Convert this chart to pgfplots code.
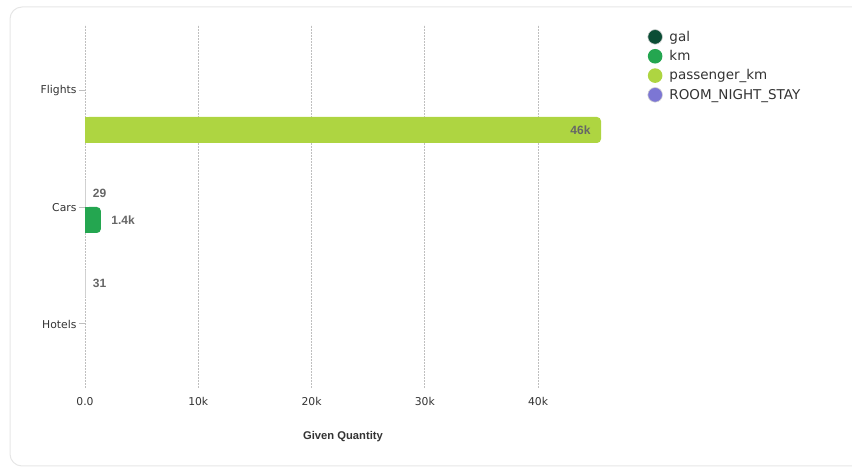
\documentclass[border=0pt]{standalone}
\usepackage{pgfplots}
\pgfplotsset{compat=1.18}
\usepackage{fontspec}
\setmainfont{DejaVu Sans}
\newfontfamily\vfont{Liberation Sans}
\definecolor{cgal}{HTML}{0B4D35}
\definecolor{ckm}{HTML}{24A650}
\definecolor{cpkm}{HTML}{AED541}
\definecolor{croom}{HTML}{7C76D4}
\definecolor{tick}{HTML}{333333}
\definecolor{vlab}{HTML}{666666}
\definecolor{grid}{HTML}{9C9C9C}
\definecolor{card}{HTML}{E6E6E6}
\begin{document}
\begin{tikzpicture}[x=1pt,y=1pt]
\path[use as bounding box] (0,0) rectangle (852,468);
\draw[card, line width=1pt, rounded corners=12pt] (10,2) rectangle (880,461);
\begin{axis}[
  at={(85pt,80pt)}, anchor=south west,
  scale only axis, width=516pt, height=363pt,
  xmin=0, xmax=45560, ymin=-388, ymax=-25,
  axis line style={draw=none},
  xtick={0,10000,20000,30000,40000},
  xticklabels={0.0,10k,20k,30k,40k},
  ytick={-323,-207,-90},
  yticklabels={Hotels,Cars,Flights},
  xmajorgrids=true, ymajorgrids=false,
  grid style={grid, dash pattern=on 1.6pt off 1.4pt, line width=0.8pt},
  x tick style={draw=none},
  ytick pos=left,
  y tick style={draw=black!25, line width=0.7pt},
  tick align=outside, major tick length=6pt,
  xticklabel style={font=\fontsize{10.8}{12}\selectfont, text=tick},
  yticklabel style={font=\fontsize{10.8}{12}\selectfont, text=tick, xshift=1pt, yshift=-1pt},
  xlabel={Given Quantity},
  xlabel style={at={(axis description cs:0.5,0)}, anchor=center, yshift=-49pt, font=\vfont\bfseries\fontsize{11.2}{13}\selectfont, text=tick},
  scaled x ticks=false,
  xbar, bar width=26pt, bar shift=0pt,
  point meta=explicit symbolic,
  nodes near coords,
  nodes near coords style={font=\vfont\bfseries\fontsize{12}{14}\selectfont, text=vlab, anchor=west, xshift=4pt},
  legend style={at={(1.084,0.995)}, anchor=north west, draw=none, fill=none,
    font=\fontsize{13.5}{15}\selectfont, text=tick, row sep=3.6pt, cells={anchor=west}},
  legend image code/.code={\fill[#1] (-6pt,0pt) circle (7.3pt); \path (6pt,0pt);},
  clip=false,
]
\addplot[fill=cgal, draw=black!18, line width=0.6pt] coordinates {(29,-193) [29]};
\addlegendentry{gal}
\addplot[fill=ckm, draw=none, rounded corners=4pt, nodes near coords style={xshift=3pt}] coordinates {(1400,-220) [1.4k]};
\addlegendentry{km}
\addplot[fill=cpkm, draw=none, rounded corners=4pt, nodes near coords style={anchor=east, xshift=-11pt, text=black!60}] coordinates {(45560,-130) [46k]};
\addlegendentry{passenger\_km}
\addplot[fill=croom, draw=black!18, line width=0.6pt] coordinates {(31,-283) [31]};
\addlegendentry{ROOM\_NIGHT\_STAY}
\addplot[fill=ckm, draw=none, forget plot, nodes near coords={}] coordinates {(900,-220) []};
\addplot[fill=cpkm, draw=none, forget plot, nodes near coords={}] coordinates {(45000,-130) []};
\end{axis}
\end{tikzpicture}
\end{document}
